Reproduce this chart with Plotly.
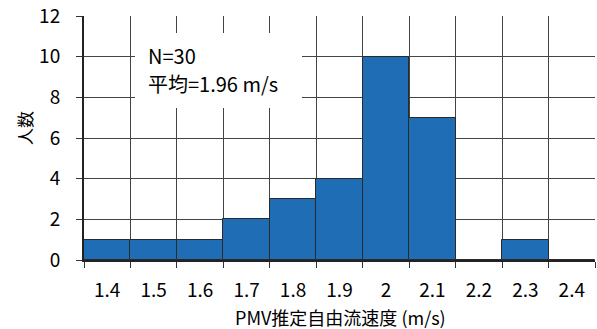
import plotly.graph_objects as go

categories = ["1.4", "1.5", "1.6", "1.7", "1.8", "1.9", "2", "2.1", "2.2", "2.3", "2.4"]
counts = [1, 1, 1, 2, 3, 4, 10, 7, 0, 1, 0]
y_ticks = [0, 2, 4, 6, 8, 10, 12]
n_total = 30
mean_value = 1.96

FONT = "Noto Sans CJK JP"
W, H = 597, 329
L, R, T, B = 84, 2, 16, 69
pw, ph = W - L - R, H - T - B

def px_x(x):
    return (x - L) / pw

def px_y(y):
    return (H - B - y) / ph

fig = go.Figure()
fig.add_trace(go.Bar(
    x=categories, y=counts,
    marker=dict(color="#1f6db5", line=dict(color="#2a2a2a", width=1)),
    width=1.0,
))

fig.update_layout(
    width=W, height=H,
    margin=dict(l=L, r=R, t=T, b=B, autoexpand=False),
    plot_bgcolor="white", paper_bgcolor="white",
    showlegend=False,
    bargap=0,
    font=dict(family=FONT, size=19, color="#000"),
    xaxis=dict(
        type="category", tickson="boundaries", ticks="outside", ticklen=6,
        tickcolor="#333", showgrid=True, gridcolor="#444", gridwidth=1,
        showline=True, linecolor="#222", linewidth=2, automargin=False,
        ticklabelstandoff=12, tickfont=dict(size=19),
        range=[-0.5, len(categories) - 0.5],
    ),
    yaxis=dict(
        range=[0, 12], tickvals=y_ticks, ticks="outside", ticklen=6,
        tickcolor="#333", showgrid=True, gridcolor="#444", gridwidth=1,
        showline=True, linecolor="#222", linewidth=2, zeroline=False,
        automargin=False, ticklabelstandoff=12, tickfont=dict(size=19),
    ),
)

fig.add_shape(type="rect", xref="paper", yref="paper",
              x0=px_x(135), x1=px_x(302), y0=px_y(108), y1=px_y(33),
              fillcolor="white", line=dict(width=0), layer="above")

for text, ypx in [(f"N={n_total}", 55), (f"平均={mean_value} m/s", 83)]:
    fig.add_annotation(xref="paper", yref="paper", x=px_x(146), y=px_y(ypx),
                       xanchor="left", yanchor="middle", align="left", showarrow=False,
                       text=text, font=dict(family=FONT, size=20, color="#000"))

fig.add_annotation(xref="paper", yref="paper", x=px_x(25), y=px_y(128),
                   xanchor="center", yanchor="middle", showarrow=False,
                   text="人数", textangle=-90,
                   font=dict(family=FONT, size=17, color="#000"))

fig.add_annotation(xref="paper", yref="paper", x=px_x(340), y=px_y(317),
                   xanchor="center", yanchor="middle", showarrow=False,
                   text="PMV推定自由流速度 (m/s)",
                   font=dict(family=FONT, size=18, color="#000"))

fig.write_html("out.html",
               config={"displayModeBar": False},
               post_script="document.body.style.margin='0';document.body.style.overflow='hidden';")
